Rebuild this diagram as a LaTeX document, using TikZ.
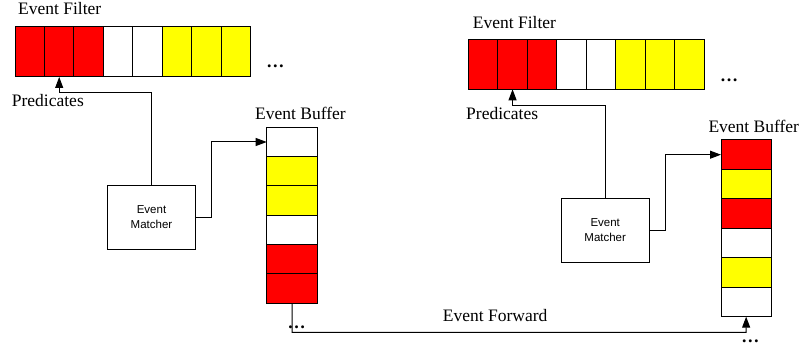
\documentclass[tikz,border=0pt]{standalone}
\usepackage{fontspec}
\setmainfont{Liberation Serif}
\setsansfont{Liberation Sans}
\usetikzlibrary{arrows.meta,calc}
\definecolor{cred}{RGB}{255,0,0}
\definecolor{cyel}{RGB}{255,255,0}
\begin{document}
\begin{tikzpicture}[x=1pt,y=-1pt,
  fcell/.style={draw=black,line width=1pt,inner sep=0pt,outer sep=0pt,anchor=north west,minimum width=29.5pt,minimum height=50pt},
  bcell/.style={draw=black,line width=1pt,inner sep=0pt,outer sep=0pt,anchor=north west,minimum width=50.8pt,minimum height=29.4pt},
  matcher/.style={draw=black,line width=1pt,inner sep=0pt,outer sep=0pt,minimum width=88.4pt,minimum height=63.5pt,align=center,font=\sffamily\fontsize{11.5}{15}\selectfont},
  lbl/.style={inner sep=0pt,anchor=base west,font=\fontsize{17.5}{20}\selectfont},
  dotsl/.style={inner sep=0pt,font=\bfseries\fontsize{18}{20}\selectfont},
  arr/.style={line width=1pt,-{Triangle[length=11pt,width=8pt]}},
  ln/.style={line width=1pt}]
\useasboundingbox (0,0) rectangle (804,347);

% left filter
\foreach \col [count=\i] in {cred,cred,cred,white,white,cyel,cyel,cyel}
  \node[fcell,fill=\col] (fL\i) at ({15+(\i-1)*29.45},27) {};
% right filter
\foreach \col [count=\i] in {cred,cred,cred,white,white,cyel,cyel,cyel}
  \node[fcell,fill=\col] (fR\i) at ({468.3+(\i-1)*29.5},39.3) {};
% left buffer
\foreach \col [count=\i] in {white,cyel,cyel,white,cred,cred}
  \node[bcell,fill=\col] (bL\i) at (266.7,{127.3+(\i-1)*29.33}) {};
% right buffer
\foreach \col [count=\i] in {cred,cyel,cred,white,cyel,white}
  \node[bcell,minimum width=50.3pt,fill=\col] (bR\i) at (721,{140+(\i-1)*29.45}) {};

% matchers
\node[matcher] (mL) at (151.5,217.5) {Event\\Matcher};
\node[matcher] (mR) at (605.2,230.3) {Event\\Matcher};

% labels
\node[lbl] (tFL) at (18,15) {Event Filter};
\node[lbl] (tFR) at (472.7,28.3) {Event Filter};
\node[lbl] (tPL) at (11.7,107) {Predicates};
\node[lbl] (tPR) at (466,120) {Predicates};
\node[lbl] (tBL) at (255,119.3) {Event Buffer};
\node[lbl] (tBR) at (708.3,132.7) {Event Buffer};
\node[lbl] (tFw) at (442.7,321.7) {Event Forward};

% dots
\node[dotsl] (d1) at (275.3,66.7) {\ldots};
\node[dotsl] (d2) at (729,80) {\ldots};
\node[dotsl] (d3) at (296.5,327.7) {\ldots};
\node[dotsl] (d4) at (750.4,341) {\ldots};

% connectors
\coordinate (pL) at (59.2,92.7);
\draw[arr] (mL.north) |- (pL) -- (fL2.south);
\coordinate (pR) at (512.55,106);
\draw[arr] (mR.north) |- (pR) -- (fR2.south);

\coordinate (kL) at (211,142);
\draw[arr] (mL.east) -| (kL) -- (bL1.west);
\coordinate (kR) at (665,154.7);
\draw[arr] (mR.east) -| (kR) -- (bR1.west);

\coordinate (fw) at (292.1,332.3);
\draw[arr] (bL6.south) -- (fw) -| (bR6.south);
\end{tikzpicture}
\end{document}
